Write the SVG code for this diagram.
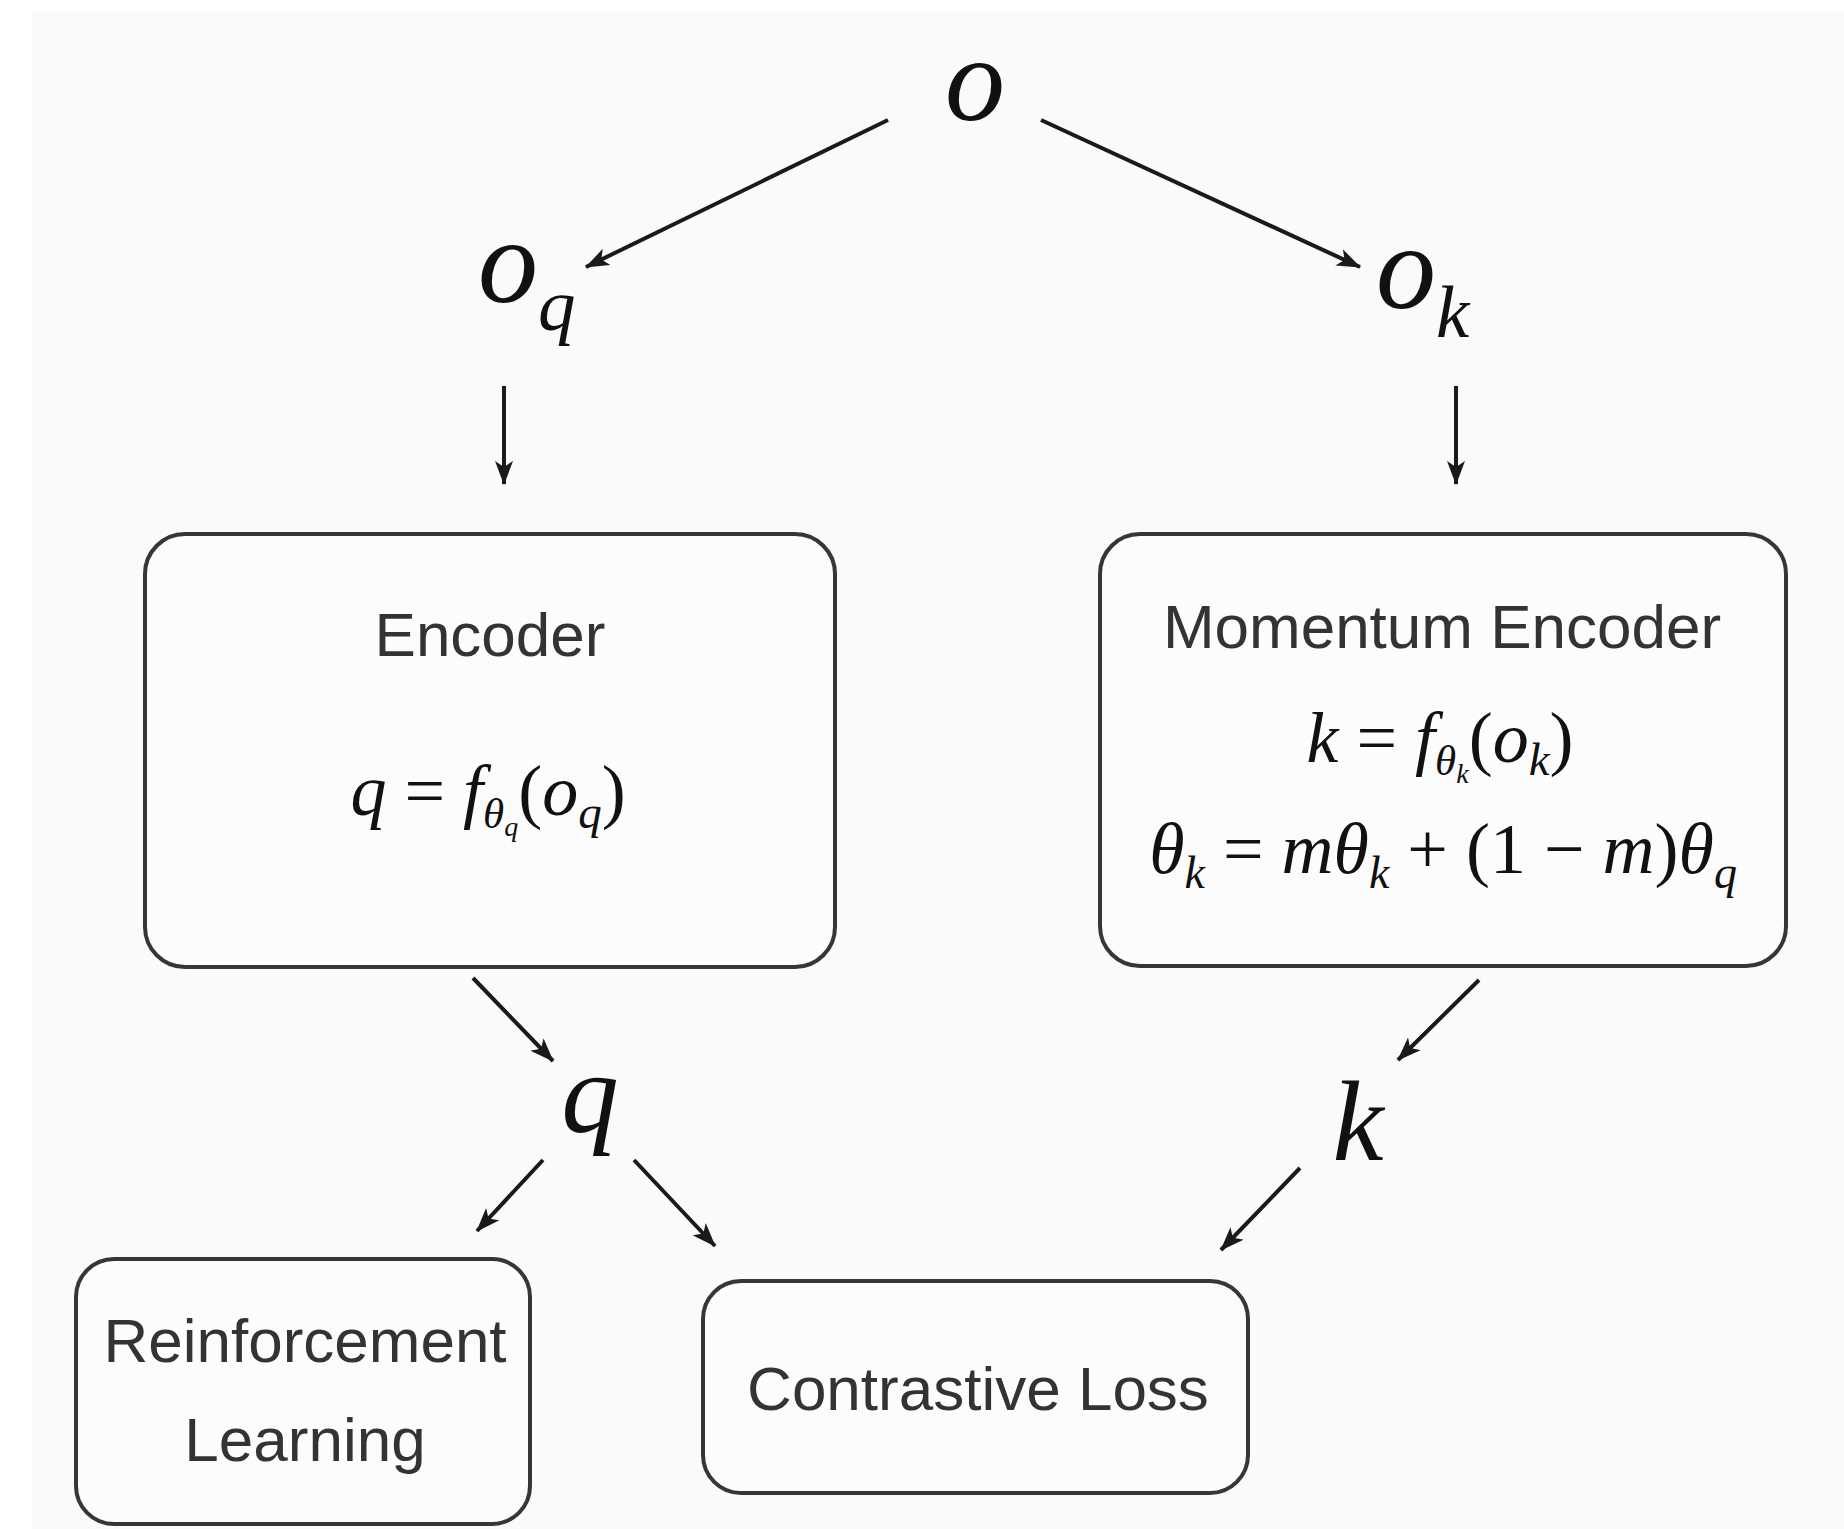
<svg xmlns="http://www.w3.org/2000/svg" width="1844" height="1529" viewBox="0 0 1844 1529">
  <defs>
    <style>
      .box { fill: #fcfcfc; stroke: #363636; stroke-width: 4; }
      .lbl { font-family: "Liberation Sans", Arial, sans-serif; font-size: 62px; fill: #333; text-anchor: middle; }
      .math { font-family: "Liberation Serif", "Times New Roman", serif; font-style: italic; fill: #111; }
      .up { font-style: normal; }
      .edge { stroke: #1a1a1a; stroke-width: 4; fill: none; marker-end: url(#ah); }
    </style>
    <marker id="ah" viewBox="0 0 24 18" refX="23" refY="9" markerWidth="24" markerHeight="18" markerUnits="userSpaceOnUse" orient="auto">
      <path d="M0,0 L24,9 L0,18 L6,9 z" fill="#1a1a1a"/>
    </marker>
  </defs>

  <!-- page -->
  <rect x="0" y="0" width="1844" height="1529" fill="#ffffff"/>
  <rect x="32" y="12" width="1812" height="1517" fill="#fafafa"/>

  <!-- observation and its two augmentations -->
  <g id="node-o">
    <text class="math" x="975" y="120" font-size="120" text-anchor="middle">o</text>
  </g>
  <g id="node-oq">
    <text class="math" x="478" y="302" font-size="120">o<tspan dy="28" font-size="75">q</tspan></text>
  </g>
  <g id="node-ok">
    <text class="math" x="1376" y="308" font-size="120">o<tspan dy="29" font-size="75">k</tspan></text>
  </g>

  <!-- encoders -->
  <g id="node-encoder">
    <rect class="box" x="145" y="534" width="690" height="433" rx="40" ry="40"/>
    <text class="lbl" x="490" y="656">Encoder</text>
    <text class="math" x="488" y="815" font-size="72" text-anchor="middle">q<tspan class="up"> = </tspan>f<tspan dy="13" font-size="43">θ</tspan><tspan dy="8" font-size="28">q</tspan><tspan dy="-21" class="up">(</tspan>o<tspan dy="13" font-size="47">q</tspan><tspan dy="-13" class="up">)</tspan></text>
  </g>
  <g id="node-momentum-encoder">
    <rect class="box" x="1100" y="534" width="686" height="432" rx="40" ry="40"/>
    <text class="lbl" x="1442" y="648">Momentum Encoder</text>
    <text class="math" x="1440" y="762" font-size="72" text-anchor="middle">k<tspan class="up"> = </tspan>f<tspan dy="13" font-size="43">θ</tspan><tspan dy="8" font-size="28">k</tspan><tspan dy="-21" class="up">(</tspan>o<tspan dy="13" font-size="47">k</tspan><tspan dy="-13" class="up">)</tspan></text>
    <text class="math" x="1443" y="873" font-size="72" text-anchor="middle">θ<tspan dy="15" font-size="46">k</tspan><tspan dy="-15" class="up"> = </tspan>mθ<tspan dy="15" font-size="46">k</tspan><tspan dy="-15" class="up"> + (1 − </tspan>m<tspan class="up">)</tspan>θ<tspan dy="15" font-size="46">q</tspan></text>
  </g>

  <!-- encoder outputs -->
  <g id="node-q">
    <text class="math" x="590" y="1132" font-size="115" text-anchor="middle">q</text>
  </g>
  <g id="node-k">
    <text class="math" x="1358" y="1160" font-size="115" text-anchor="middle">k</text>
  </g>

  <!-- consumers -->
  <g id="node-rl">
    <rect class="box" x="76" y="1259" width="454" height="265" rx="38" ry="38"/>
    <text class="lbl" x="305" y="1362">Reinforcement</text>
    <text class="lbl" x="305" y="1461">Learning</text>
  </g>
  <g id="node-contrastive">
    <rect class="box" x="703" y="1281" width="545" height="212" rx="38" ry="38"/>
    <text class="lbl" x="978" y="1410">Contrastive Loss</text>
  </g>

  <!-- connectors -->
  <g id="edges">
    <line class="edge" x1="888" y1="120" x2="586" y2="267"/>
    <line class="edge" x1="1041" y1="120" x2="1360" y2="267"/>
    <line class="edge" x1="504" y1="386" x2="504" y2="484"/>
    <line class="edge" x1="1456" y1="386" x2="1456" y2="484"/>
    <line class="edge" x1="473" y1="978" x2="553" y2="1061"/>
    <line class="edge" x1="1479" y1="980" x2="1398" y2="1060"/>
    <line class="edge" x1="543" y1="1160" x2="477" y2="1231"/>
    <line class="edge" x1="634" y1="1160" x2="715" y2="1246"/>
    <line class="edge" x1="1300" y1="1168" x2="1221" y2="1250"/>
  </g>
</svg>
